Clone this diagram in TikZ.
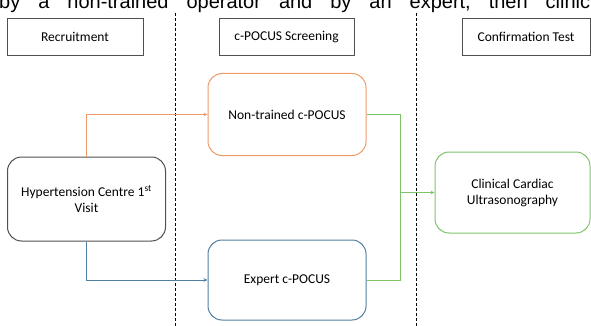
\documentclass[tikz,border=0pt]{standalone}
\usepackage{fontspec}
\setmainfont{Carlito}
\newfontfamily\bodyfont{Liberation Sans}
\usetikzlibrary{arrows.meta}
\usetikzlibrary{positioning}

\definecolor{boxgray}{HTML}{505050}
\definecolor{trainorange}{HTML}{EE9A68}
\definecolor{expertblue}{HTML}{4F7FA0}
\definecolor{clingreen}{HTML}{7CC46A}

\begin{document}
\begin{tikzpicture}[x=1pt,y=-1pt,
	header/.style={draw=boxgray, line width=0.8pt, minimum height=37pt, font=\fontsize{13.5}{15}\selectfont},
	stage/.style={draw, rounded corners=14pt, line width=1pt, minimum width=158pt, minimum height=82pt, align=center, font=\fontsize{13.5}{16}\selectfont},
	flow/.style={line width=0.8pt, -{Stealth[length=4pt,width=3.5pt]}},
	phase/.style={dashed, line width=0.8pt, dash pattern=on 3pt off 2pt}]
	% Page frame
	\useasboundingbox (0,0) rectangle (591,326);
	\clip (0,0) rectangle (591,326);

	% Text line cut off above the figure
	\node[anchor=base west, inner sep=0pt, text width=591pt, font=\bodyfont\fontsize{20}{22}\selectfont] (caption) at (-1,9)
		{by\hfill a\hfill non-trained\hfill operator\hfill and\hfill by\hfill an\hfill expert,\hfill then\hfill clinic};

	% Phase separators
	\def\ybottom{326}
	\foreach \x in {175,416} {
		\draw[phase] (\x,13) -- (\x,\ybottom);
	}

	% Phase headers
	\node[header, minimum width=136pt] (recruit) at (75,36.5) {Recruitment};
	\node[header, minimum width=135pt] (screen) at (286.5,37) {c-POCUS Screening};
	\node[header, minimum width=128pt] (confirm) at (526,36.5) {Confirmation Test};

	% Stages
	\node[stage, draw=boxgray, minimum height=84pt] (visit) at (86.5,199) {Hypertension Centre 1\textsuperscript{st}\\Visit};
	\node[stage, draw=trainorange] (nontrained) at (287,114.5) {Non-trained c-POCUS};
	\node[stage, draw=expertblue, minimum height=80pt] (expert) at (287,280) {Expert c-POCUS};
	\node[stage, draw=clingreen, minimum width=155pt, minimum height=81pt] (clinical) at (512.5,192.5) {Clinical Cardiac\\Ultrasonography};

	% Connections
	\coordinate (merge) at (400,192.5);
	\draw[flow, trainorange] (visit.north) |- (nontrained.west);
	\draw[flow, expertblue] (visit.south) |- (expert.west);
	\draw[line width=0.8pt, clingreen] (nontrained.east) -| (merge);
	\draw[line width=0.8pt, clingreen] (expert.east) -| (merge);
	\draw[flow, clingreen] (merge) -- (clinical.west);
\end{tikzpicture}
\end{document}
